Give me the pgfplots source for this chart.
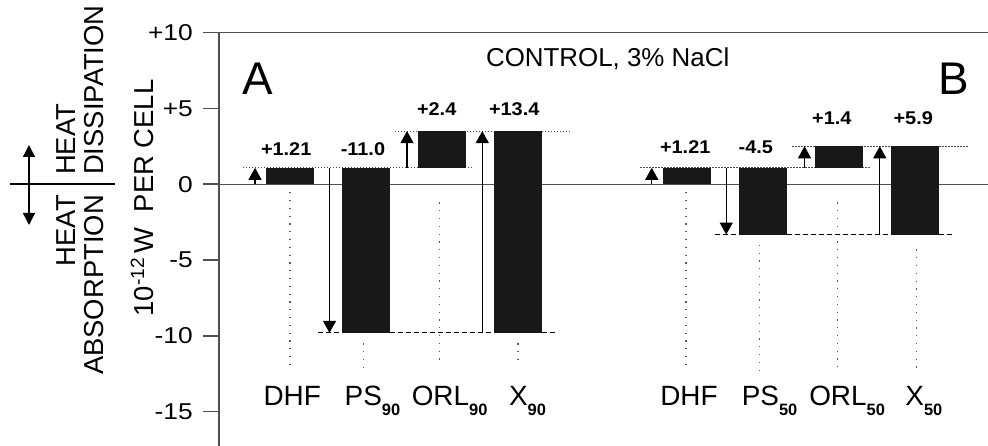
\documentclass[border=0pt]{standalone}
\usepackage{fontspec}
\setmainfont{Liberation Sans}
\newfontfamily\tickfont{Liberation Sans}[FakeStretch=1.15]
\newfontfamily\valfont{Liberation Sans}[FakeStretch=1.08]
\usepackage{pgfplots}
\pgfplotsset{compat=1.18}
\usetikzlibrary{arrows.meta}
\definecolor{barcol}{HTML}{181818}
\definecolor{axcol}{HTML}{505050}
\tikzset{
  lvl/.style={gray!60!black, line width=1.1bp, dash pattern=on 1.5bp off 1.5bp},
  bot/.style={black, line width=1.3bp, dash pattern=on 5bp off 3bp},
  guide/.style={gray!70!black, line width=1.4bp, dash pattern=on 1.2bp off 6.6bp},
  arr/.style={black, line width=1.3bp, -{Triangle[width=13bp,length=12bp]}},
  bar/.style={fill=barcol, draw=none},
  val/.style={anchor=base, font=\valfont\bfseries\fontsize{18.5}{18.5}\selectfont},
  cat/.style={anchor=base, font=\fontsize{28}{28}\selectfont},
}
\newcommand{\sub}[1]{\raisebox{-10bp}{\fontsize{16.5}{16.5}\selectfont\bfseries #1}}
\begin{document}
\begin{tikzpicture}
\useasboundingbox (0bp,0bp) rectangle (988bp,446bp);
% left annotation
\draw[line width=1.2bp, black] (10bp,262bp) -- (115bp,262bp);
\draw[line width=1.3bp, {Triangle[width=12bp,length=12bp]}-{Triangle[width=12bp,length=12bp]}] (29bp,301bp) -- (29bp,221bp);
\begin{scope}[every node/.style={inner sep=0pt, rotate=90, font=\fontsize{27.5}{27.5}\selectfont}]
\node[anchor=base west] at (75bp,271bp) {HEAT};
\node[anchor=base west] at (103bp,271bp) {DISSIPATION};
\node[anchor=base east] at (75bp,251bp) {HEAT};
\node[anchor=base east] at (103bp,251bp) {ABSORPTION};
\node[anchor=base] at (153bp,248bp) {10\textsuperscript{-12}\,W\ \ PER CELL};
\end{scope}
\begin{axis}[
  at={(219bp,0bp)}, anchor=south west, scale only axis,
  width=769bp, height=413.5bp,
  xmin=-0.934, xmax=9.184, ymin=-17.26, ymax=10,
  axis x line*=top, axis y line*=left,
  xtick=\empty,
  ytick={-15,-10,-5,0,5,10},
  yticklabels={-15,-10,-5,0,+5,+10},
  tick align=outside, major tick length=16bp,
  yticklabel style={font=\tickfont\fontsize{23}{23}\selectfont, anchor=east, inner sep=0pt, xshift=-10bp},
  axis line style={axcol, line width=1.5bp},
  ytick style={axcol, line width=1.5bp},
  clip=false,
]
% zero line
\addplot[axcol, line width=1.3bp] coordinates {(-0.934,0) (9.184,0)};
% vertical guides
\addplot[guide] coordinates {(0,-0.53) (0,-12.25)};
\addplot[guide] coordinates {(0.97,-10.5) (0.97,-12.25)};
\addplot[guide] coordinates {(1.97,-1.2) (1.97,-11.85)};
\addplot[guide] coordinates {(3,-10.5) (3,-11.7)};
\addplot[guide] coordinates {(5.21,-0.53) (5.21,-12.25)};
\addplot[guide] coordinates {(6.18,-4.0) (6.18,-12.25)};
\addplot[guide] coordinates {(7.2,-1.2) (7.2,-12.45)};
\addplot[guide] coordinates {(8.24,-4.3) (8.24,-12.45)};
% level lines, A
\addplot[lvl] coordinates {(-0.62,1.08) (2.41,1.08)};
\addplot[lvl] coordinates {(1.38,3.5) (3.68,3.5)};
\addplot[bot] coordinates {(0.37,-9.8) (3.49,-9.8)};
% level lines, B
\addplot[lvl] coordinates {(4.61,1.08) (7.63,1.08)};
\addplot[lvl] coordinates {(6.61,2.5) (8.92,2.5)};
\addplot[bot] coordinates {(5.59,-3.32) (8.71,-3.32)};
% bars A
\addplot[bar] coordinates {(-0.316,0) (0.316,0) (0.316,1.08) (-0.316,1.08)};
\addplot[bar] coordinates {(0.684,-9.8) (1.316,-9.8) (1.316,1.08) (0.684,1.08)};
\addplot[bar] coordinates {(1.684,1.08) (2.316,1.08) (2.316,3.5) (1.684,3.5)};
\addplot[bar] coordinates {(2.684,-9.8) (3.316,-9.8) (3.316,3.5) (2.684,3.5)};
% bars B
\addplot[bar] coordinates {(4.904,0) (5.536,0) (5.536,1.08) (4.904,1.08)};
\addplot[bar] coordinates {(5.904,-3.32) (6.536,-3.32) (6.536,1.08) (5.904,1.08)};
\addplot[bar] coordinates {(6.904,1.08) (7.536,1.08) (7.536,2.5) (6.904,2.5)};
\addplot[bar] coordinates {(7.904,-3.32) (8.536,-3.32) (8.536,2.5) (7.904,2.5)};
% arrows A
\addplot[arr] coordinates {(-0.46,0) (-0.46,1.08)};
\addplot[arr] coordinates {(0.52,1.08) (0.52,-9.8)};
\addplot[arr] coordinates {(1.54,1.08) (1.54,3.5)};
\addplot[arr] coordinates {(2.53,-9.8) (2.53,3.5)};
% arrows B
\addplot[arr] coordinates {(4.76,0) (4.76,1.08)};
\addplot[arr] coordinates {(5.74,1.08) (5.74,-3.32)};
\addplot[arr] coordinates {(6.77,1.08) (6.77,2.5)};
\addplot[arr] coordinates {(7.76,-3.32) (7.76,2.5)};
% value labels
\node[val] at (axis cs:-0.05,1.91) {+1.21};
\node[val] at (axis cs:0.96,1.91) {-11.0};
\node[val] at (axis cs:1.93,4.55) {+2.4};
\node[val] at (axis cs:2.95,4.55) {+13.4};
\node[val] at (axis cs:5.2,2.02) {+1.21};
\node[val] at (axis cs:6.13,2.02) {-4.5};
\node[val] at (axis cs:7.13,3.95) {+1.4};
\node[val] at (axis cs:8.2,3.95) {+5.9};
% category labels
\node[cat] at (axis cs:0.03,-14.57) {DHF};
\node[cat] at (axis cs:1.085,-14.57) {PS\sub{90}};
\node[cat] at (axis cs:2.1,-14.57) {ORL\sub{90}};
\node[cat] at (axis cs:3.125,-14.57) {X\sub{90}};
\node[cat] at (axis cs:5.25,-14.57) {DHF};
\node[cat] at (axis cs:6.31,-14.57) {PS\sub{50}};
\node[cat] at (axis cs:7.33,-14.57) {ORL\sub{50}};
\node[cat] at (axis cs:8.34,-14.57) {X\sub{50}};
% panel titles
\node[anchor=base, font=\fontsize{46}{46}\selectfont] at (axis cs:-0.42,5.93) {A};
\node[anchor=base, font=\fontsize{46}{46}\selectfont] at (axis cs:8.74,5.93) {B};
\node[anchor=base, font=\fontsize{26}{26}\selectfont] at (axis cs:4.18,7.73) {CONTROL, 3\% NaCl};
\end{axis}
\end{tikzpicture}
\end{document}
